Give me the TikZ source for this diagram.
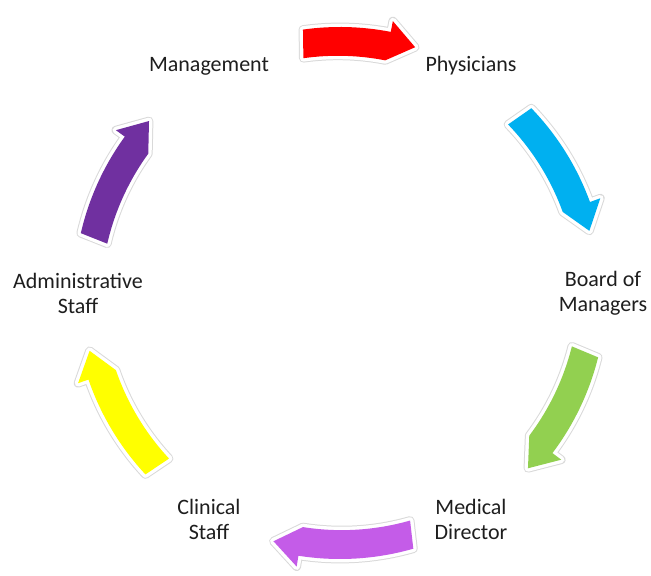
\documentclass[tikz,border=0pt]{standalone}
\usepackage{fontspec}
\setmainfont{Carlito}

% one curved block arrow, running clockwise from angle #1 to angle #2
\newcommand\arrowbody[2]{%
  (#1:266) arc[start angle=#1, end angle=#2+6, radius=266]
  -- (#2+6:277) -- (#2:257) -- (#2+6:237)
  arc[start angle=#2+6, end angle=#1, radius=248] -- cycle}

\newcommand\cyclearrow[3]{%
  \path[arrowedge] \arrowbody{#2}{#3};
  \path[arrowrim] \arrowbody{#2}{#3};
  \path[fill=#1] \arrowbody{#2}{#3};}

\definecolor{redarrow}{RGB}{255,0,0}
\definecolor{bluearrow}{RGB}{0,176,240}
\definecolor{greenarrow}{RGB}{146,208,80}
\definecolor{lilacarrow}{RGB}{196,92,232}
\definecolor{yellowarrow}{RGB}{255,255,0}
\definecolor{violetarrow}{RGB}{112,48,160}
\definecolor{labeltext}{RGB}{30,30,30}

\tikzset{
  arrowedge/.style={draw=gray!30, line width=4.4pt, line join=round},
  arrowrim/.style={draw=white, line width=3.4pt, line join=round},
}

\begin{document}
\begin{tikzpicture}[x=0.5pt, y=0.5pt]

      \useasboundingbox (-340,-283) rectangle (311,293);

      \begin{scope}[every node/.style={align=center, text=labeltext,
          font=\fontsize{11}{12.5}\selectfont}]
        \node (mgmt)  at (120:262) {Management};
        \node (phys)  at (60:262)  {Physicians};
        \node (board) at (0:263)   {Board of\\Managers};
        \node (med)   at (-60:262) {Medical\\Director};
        \node (clin)  at (-120:262) {Clinical\\Staff};
        \node (admin) at (180:262) {Administrative\\Staff};
      \end{scope}

      \cyclearrow{redarrow}{98}{73}
      \cyclearrow{bluearrow}{44}{14}
      \cyclearrow{greenarrow}{-14}{-43}
      \cyclearrow{lilacarrow}{-74}{-105}
      \cyclearrow{yellowarrow}{223}{193}
      \cyclearrow{violetarrow}{167}{138}

    \end{tikzpicture}
\end{document}
